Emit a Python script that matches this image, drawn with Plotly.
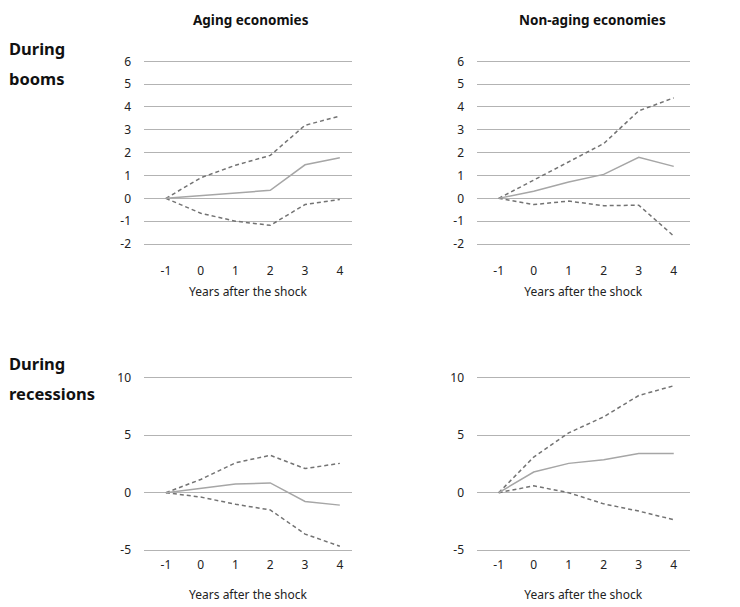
import plotly.graph_objects as go

# Years relative to the shock
years = [-1, 0, 1, 2, 3, 4]

# Aging economies, during booms
aging_boom_upper = [0, 0.9, 1.45, 1.88, 3.2, 3.6]
aging_boom_mid = [0, 0.12, 0.25, 0.35, 1.47, 1.78]
aging_boom_lower = [0, -0.65, -1.0, -1.18, -0.27, -0.05]

# Non-aging economies, during booms
nonaging_boom_upper = [0, 0.8, 1.6, 2.4, 3.83, 4.4]
nonaging_boom_mid = [0, 0.31, 0.72, 1.05, 1.8, 1.4]
nonaging_boom_lower = [0, -0.27, -0.12, -0.32, -0.3, -1.65]

# Aging economies, during recessions
aging_rec_upper = [0, 1.15, 2.6, 3.25, 2.1, 2.55]
aging_rec_mid = [0, 0.35, 0.75, 0.85, -0.76, -1.08]
aging_rec_lower = [0, -0.38, -1.0, -1.5, -3.6, -4.65]

# Non-aging economies, during recessions
nonaging_rec_upper = [0, 3.1, 5.2, 6.6, 8.45, 9.3]
nonaging_rec_mid = [0, 1.8, 2.55, 2.87, 3.4, 3.4]
nonaging_rec_lower = [0, 0.6, 0.0, -0.97, -1.6, -2.35]

col_titles = ["Aging economies", "Non-aging economies"]
row_titles = [["During", "booms"], ["During", "recessions"]]
x_title = "Years after the shock"

top_ticks = [-2, -1, 0, 1, 2, 3, 4, 5, 6]
bottom_ticks = [-5, 0, 5, 10]

W, H = 740, 607
FONT = "Noto Sans"
GRID = "#b3b3b3"
SOLID = "#a6a6a6"
DASH = "#737373"

# pixel boxes of the four plot areas
LEFT_X, RIGHT_X = (144, 352), (477, 689.5)
TOP_Y, BOTTOM_Y = (53.5, 243.2), (376.7, 558.3)


def px_x(a, b):
    return [a / W, b / W]


def px_y(top, bottom):
    return [1 - bottom / H, 1 - top / H]


panels = [
    # (upper, mid, lower, x box, y box, x range, y range, y ticks, label standoff, title standoff)
    (aging_boom_upper, aging_boom_mid, aging_boom_lower, LEFT_X, TOP_Y, [-1.63, 4.35], [-2.05, 6.05], top_ticks, 17, 9),
    (nonaging_boom_upper, nonaging_boom_mid, nonaging_boom_lower, RIGHT_X, TOP_Y, [-1.62, 4.45], [-2.05, 6.05], top_ticks, 17, 9),
    (aging_rec_upper, aging_rec_mid, aging_rec_lower, LEFT_X, BOTTOM_Y, [-1.63, 4.35], [-5.2, 10.2], bottom_ticks, 3, 19),
    (nonaging_rec_upper, nonaging_rec_mid, nonaging_rec_lower, RIGHT_X, BOTTOM_Y, [-1.62, 4.45], [-5.2, 10.2], bottom_ticks, 3, 19),
]

fig = go.Figure()
layout = {}
for i, (up, mid, lo, xd, yd, xr, yr, ticks, lab_off, tit_off) in enumerate(panels, start=1):
    xa = "x" if i == 1 else f"x{i}"
    ya = "y" if i == 1 else f"y{i}"
    for vals, color, dash in ((up, DASH, "4px,3px"), (lo, DASH, "4px,3px"), (mid, SOLID, "solid")):
        fig.add_trace(go.Scatter(
            x=years, y=vals, mode="lines", xaxis=xa, yaxis=ya,
            line=dict(color=color, width=1.5, dash=dash),
            showlegend=False, hoverinfo="skip",
        ))
    layout["xaxis" if i == 1 else f"xaxis{i}"] = dict(
        domain=px_x(*xd), anchor=ya, range=xr,
        tickmode="array", tickvals=years, ticktext=[str(v) for v in years],
        showgrid=False, zeroline=False, showline=False, ticks="",
        ticklabelstandoff=lab_off,
        tickfont=dict(family=FONT, size=12, color="#222"),
        title=dict(text=x_title, standoff=tit_off, font=dict(family=FONT, size=12, color="#222")),
    )
    layout["yaxis" if i == 1 else f"yaxis{i}"] = dict(
        domain=px_y(*yd), anchor=xa, range=yr,
        tickmode="array", tickvals=ticks, ticktext=[str(v) for v in ticks],
        showgrid=True, gridcolor=GRID, gridwidth=1,
        zeroline=True, zerolinecolor=GRID, zerolinewidth=1,
        showline=False, ticks="", ticklabelstandoff=12,
        tickfont=dict(family=FONT, size=12, color="#222"),
    )

annotations = []
for t, cx in zip(col_titles, (251, 592)):
    annotations.append(dict(
        text=f"<b>{t}</b>", x=cx / W, y=1 - 12 / H,
        xref="paper", yref="paper", xanchor="center", yanchor="middle",
        showarrow=False, font=dict(family=FONT, size=13.5, color="#111"),
    ))
for lines, y0 in zip(row_titles, (42, 365)):
    for k, line in enumerate(lines):
        annotations.append(dict(
            text=f"<b>{line}</b>", x=7 / W, y=1 - (y0 + 30 * k) / H,
            xref="paper", yref="paper", xanchor="left", yanchor="middle",
            showarrow=False, font=dict(family=FONT, size=16.5, color="#111"),
        ))

fig.update_layout(
    width=W, height=H, margin=dict(l=0, r=0, t=0, b=0),
    paper_bgcolor="white", plot_bgcolor="white",
    annotations=annotations, **layout,
)

fig.write_html("out.html")
